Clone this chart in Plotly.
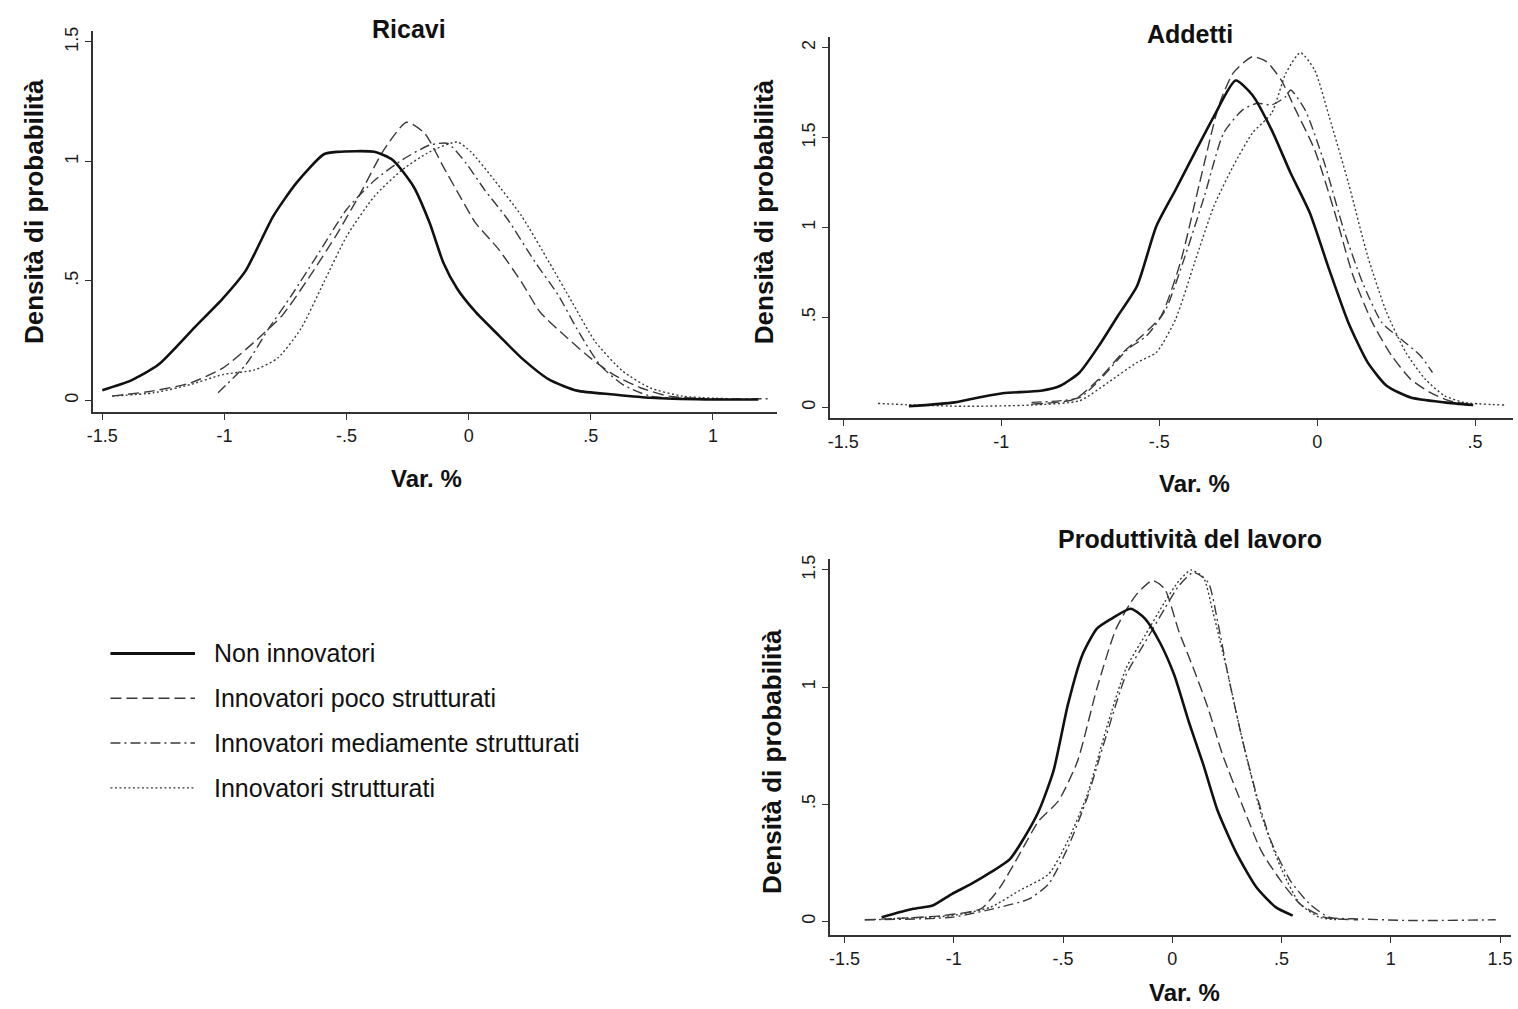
import plotly.graph_objects as go

# ---------------- data ----------------
SERIES_NAMES = ["Non innovatori", "Innovatori poco strutturati",
                "Innovatori mediamente strutturati", "Innovatori strutturati"]

# Ricavi
RIC_NON_X = [-1.50, -1.384, -1.271, -1.12, -1.008, -0.913, -0.80, -0.706, -0.593, -0.537, -0.386, -0.311,
             -0.226, -0.16, -0.104, -0.047, 0.028, 0.122, 0.217, 0.33, 0.443, 0.593, 0.744, 0.97, 1.186]
RIC_NON_Y = [0.043, 0.083, 0.149, 0.308, 0.425, 0.543, 0.771, 0.909, 1.03, 1.04, 1.04, 1.006,
             0.895, 0.743, 0.577, 0.467, 0.37, 0.273, 0.177, 0.087, 0.041, 0.025, 0.011, 0.004, 0.004]
RIC_POCO_X = [-1.46, -1.29, -1.14, -1.007, -0.876, -0.763, -0.65, -0.537, -0.443, -0.348, -0.254, -0.179,
              -0.104, -0.028, 0.028, 0.122, 0.217, 0.292, 0.405, 0.499, 0.593, 0.706, 0.819, 0.97]
RIC_POCO_Y = [0.018, 0.04, 0.073, 0.135, 0.246, 0.356, 0.52, 0.70, 0.867, 1.047, 1.164, 1.116,
              0.978, 0.84, 0.743, 0.633, 0.494, 0.37, 0.26, 0.177, 0.108, 0.052, 0.018, 0.007]
RIC_MED_X = [-1.026, -0.913, -0.819, -0.725, -0.612, -0.499, -0.386, -0.273, -0.16, -0.085, -0.009,
             0.066, 0.16, 0.273, 0.367, 0.443, 0.537, 0.631, 0.744, 0.97, 1.224]
RIC_MED_Y = [0.032, 0.149, 0.30, 0.44, 0.62, 0.80, 0.92, 1.006, 1.068, 1.075, 0.99,
             0.88, 0.757, 0.577, 0.44, 0.30, 0.149, 0.066, 0.018, 0.007, 0.007]
RIC_STR_X = [-1.46, -1.29, -1.14, -1.007, -0.876, -0.782, -0.687, -0.593, -0.499, -0.386, -0.273, -0.16,
             -0.047, 0.009, 0.104, 0.217, 0.33, 0.424, 0.518, 0.631, 0.744, 0.876, 1.064]
RIC_STR_Y = [0.018, 0.032, 0.066, 0.108, 0.128, 0.177, 0.30, 0.494, 0.688, 0.854, 0.964, 1.04,
             1.081, 1.04, 0.923, 0.771, 0.577, 0.41, 0.246, 0.122, 0.052, 0.018, 0.007]

# Addetti
ADD_NON_X = [-1.292, -1.147, -1.071, -0.995, -0.874, -0.813, -0.752, -0.691, -0.631, -0.57, -0.509, -0.448,
             -0.388, -0.327, -0.258, -0.205, -0.144, -0.084, -0.023, 0.038, 0.099, 0.16, 0.22, 0.296, 0.403, 0.494]
ADD_NON_Y = [0.006, 0.028, 0.055, 0.079, 0.092, 0.12, 0.194, 0.342, 0.508, 0.675, 1.007, 1.21,
             1.414, 1.617, 1.817, 1.737, 1.543, 1.303, 1.081, 0.767, 0.471, 0.25, 0.12, 0.055, 0.028, 0.013]
ADD_POCO_X = [-0.904, -0.767, -0.691, -0.615, -0.555, -0.494, -0.433, -0.372, -0.312, -0.266, -0.205, -0.16,
              -0.114, -0.068, -0.008, 0.053, 0.114, 0.175, 0.236, 0.296, 0.357, 0.418, 0.494]
ADD_POCO_Y = [0.018, 0.046, 0.157, 0.305, 0.397, 0.508, 0.804, 1.248, 1.673, 1.858, 1.95, 1.922,
              1.821, 1.654, 1.433, 1.10, 0.73, 0.471, 0.287, 0.157, 0.083, 0.037, 0.013]
ADD_MED_X = [-0.904, -0.752, -0.676, -0.6, -0.54, -0.479, -0.418, -0.357, -0.296, -0.236, -0.19, -0.144,
             -0.099, -0.084, -0.038, 0.023, 0.084, 0.144, 0.205, 0.266, 0.327, 0.365]
ADD_MED_Y = [0.028, 0.055, 0.176, 0.323, 0.397, 0.545, 0.841, 1.174, 1.525, 1.654, 1.691, 1.682,
             1.728, 1.765, 1.654, 1.359, 0.989, 0.693, 0.471, 0.379, 0.287, 0.194]
ADD_STR_X = [-1.39, -1.30, -1.117, -0.904, -0.752, -0.661, -0.57, -0.509, -0.448, -0.388, -0.327, -0.266,
             -0.205, -0.144, -0.099, -0.053, -0.008, 0.038, 0.099, 0.16, 0.22, 0.281, 0.342, 0.403, 0.464, 0.593]
ADD_STR_Y = [0.022, 0.015, 0.006, 0.013, 0.037, 0.139, 0.25, 0.305, 0.49, 0.804, 1.118, 1.34,
             1.525, 1.636, 1.858, 1.972, 1.876, 1.617, 1.248, 0.841, 0.527, 0.305, 0.157, 0.065, 0.028, 0.013]

# Produttività del lavoro
PRO_NON_X = [-1.33, -1.186, -1.097, -1.009, -0.92, -0.832, -0.743, -0.677, -0.611, -0.544, -0.478, -0.412,
             -0.345, -0.279, -0.19, -0.124, -0.058, 0.009, 0.075, 0.142, 0.208, 0.296, 0.385, 0.473, 0.551]
PRO_NON_Y = [0.018, 0.054, 0.068, 0.117, 0.16, 0.209, 0.266, 0.358, 0.471, 0.641, 0.924, 1.136,
             1.249, 1.291, 1.334, 1.291, 1.192, 1.051, 0.853, 0.669, 0.471, 0.287, 0.146, 0.061, 0.025]
PRO_POCO_X = [-1.407, -1.053, -0.876, -0.788, -0.699, -0.611, -0.522, -0.434, -0.345, -0.257, -0.168, -0.091,
              -0.035, 0.031, 0.097, 0.164, 0.23, 0.319, 0.407, 0.496, 0.584, 0.695, 0.85]
PRO_POCO_Y = [0.007, 0.025, 0.054, 0.146, 0.287, 0.429, 0.513, 0.683, 0.994, 1.249, 1.39, 1.454,
              1.419, 1.235, 1.079, 0.909, 0.711, 0.499, 0.301, 0.174, 0.075, 0.018, 0.007]
PRO_MED_X = [-1.407, -1.009, -0.788, -0.655, -0.566, -0.478, -0.389, -0.301, -0.212, -0.124, -0.035, 0.031,
             0.097, 0.164, 0.208, 0.252, 0.319, 0.385, 0.451, 0.54, 0.628, 0.717, 0.85, 1.093, 1.48]
PRO_MED_Y = [0.007, 0.018, 0.061, 0.096, 0.16, 0.315, 0.528, 0.796, 1.051, 1.192, 1.334, 1.433,
             1.489, 1.447, 1.277, 1.065, 0.782, 0.542, 0.344, 0.174, 0.075, 0.018, 0.011, 0.004, 0.007]
PRO_STR_X = [-1.319, -1.009, -0.832, -0.699, -0.566, -0.478, -0.389, -0.301, -0.212, -0.124, -0.035, 0.031,
             0.086, 0.142, 0.186, 0.252, 0.319, 0.407, 0.496, 0.584, 0.673, 0.761]
PRO_STR_Y = [0.011, 0.025, 0.061, 0.132, 0.202, 0.344, 0.542, 0.825, 1.079, 1.221, 1.362, 1.454,
             1.499, 1.468, 1.32, 1.065, 0.782, 0.457, 0.231, 0.075, 0.018, 0.007]

PANEL_TITLES = ["Ricavi", "Addetti", "Produttività del lavoro"]
X_TITLE = "Var. %"
Y_TITLE = "Densità di probabilità"

X_TICKS_1 = [-1.5, -1, -0.5, 0, 0.5, 1]
X_TICKS_2 = [-1.5, -1, -0.5, 0, 0.5]
X_TICKS_3 = [-1.5, -1, -0.5, 0, 0.5, 1, 1.5]
Y_TICKS_1 = [0, 0.5, 1, 1.5]
Y_TICKS_2 = [0, 0.5, 1, 1.5, 2]
Y_TICKS_3 = [0, 0.5, 1, 1.5]

# ---------------- styling ----------------
W, H = 1518, 1009
FONT = "Liberation Sans, Arial, sans-serif"
STYLES = [
    dict(color="#111111", width=2.6, dash="solid"),
    dict(color="#3a3a3a", width=1.4, dash="11px,5px"),
    dict(color="#3a3a3a", width=1.4, dash="10px,4px,2px,4px"),
    dict(color="#3a3a3a", width=1.4, dash="2px,2.5px"),
]


def tick_txt(v):
    if v == 0:
        return "0"
    s = ("%g" % v)
    s = s.replace("0.", ".")
    return s


def px_x(p):
    return p / W


def px_y(p):
    return 1 - p / H


fig = go.Figure()

panels = [
    ([(RIC_NON_X, RIC_NON_Y), (RIC_POCO_X, RIC_POCO_Y), (RIC_MED_X, RIC_MED_Y), (RIC_STR_X, RIC_STR_Y)], "x", "y"),
    ([(ADD_NON_X, ADD_NON_Y), (ADD_POCO_X, ADD_POCO_Y), (ADD_MED_X, ADD_MED_Y), (ADD_STR_X, ADD_STR_Y)], "x2", "y2"),
    ([(PRO_NON_X, PRO_NON_Y), (PRO_POCO_X, PRO_POCO_Y), (PRO_MED_X, PRO_MED_Y), (PRO_STR_X, PRO_STR_Y)], "x3", "y3"),
]
for series, xa, ya in panels:
    for i in [3, 2, 1, 0]:
        xs, ys = series[i]
        fig.add_trace(go.Scatter(x=xs, y=ys, mode="lines", name=SERIES_NAMES[i],
                                 line=dict(shape="spline", smoothing=0.6, **STYLES[i]),
                                 xaxis=xa, yaxis=ya, showlegend=False, hoverinfo="skip"))

# panel geometry (pixels)
geo = [
    (87, 775, 27, 410, [-1.54, 1.262], [-0.05, 1.546], X_TICKS_1, Y_TICKS_1),
    (828, 1515, 33, 416, [-1.543, 0.62], [-0.061, 2.06], X_TICKS_2, Y_TICKS_2),
    (828, 1513, 557, 935, [-1.568, 1.55], [-0.059, 1.547], X_TICKS_3, Y_TICKS_3),
]

axis_common = dict(showline=True, linecolor="#333333", linewidth=1.6, ticks="outside",
                   ticklen=6, tickwidth=1.3, tickcolor="#333333", showgrid=False, zeroline=False,
                   tickfont=dict(family=FONT, size=18, color="#1a1a1a"), fixedrange=True)

layout_axes = {}
for k, (xl, xr, yt, yb, xr_, yr_, xt, yt_) in enumerate(geo):
    sfx = "" if k == 0 else str(k + 1)
    layout_axes["xaxis" + sfx] = dict(domain=[px_x(xl), px_x(xr)], range=xr_, anchor="y" + sfx,
                                      tickvals=xt, ticktext=[tick_txt(v) for v in xt], **axis_common)
    layout_axes["yaxis" + sfx] = dict(domain=[px_y(yb), px_y(yt)], range=yr_, anchor="x" + sfx,
                                      tickvals=yt_, ticktext=[tick_txt(v) for v in yt_], tickangle=-90,
                                      **axis_common)

annotations = []
bold = lambda s: "<b>" + s + "</b>"

for txt, cx, cy in [(PANEL_TITLES[0], 405, 25), (PANEL_TITLES[1], 1190, 30), (PANEL_TITLES[2], 1190, 537)]:
    annotations.append(dict(text=bold(txt), x=px_x(cx), y=px_y(cy), xref="paper", yref="paper",
                            xanchor="center", yanchor="middle", showarrow=False,
                            font=dict(family=FONT, size=25, color="#111111")))
for cx, cy in [(423, 476), (1195, 481), (1185, 992)]:
    annotations.append(dict(text=bold(X_TITLE), x=px_x(cx), y=px_y(cy), xref="paper", yref="paper",
                            xanchor="center", yanchor="middle", showarrow=False,
                            font=dict(family=FONT, size=24, color="#111111")))
for cx, cy in [(28, 208), (762, 208), (770, 760)]:
    annotations.append(dict(text=bold(Y_TITLE), x=px_x(cx), y=px_y(cy), xref="paper", yref="paper",
                            xanchor="center", yanchor="middle", showarrow=False, textangle=-90,
                            font=dict(family=FONT, size=26, color="#111111")))

shapes = []
legend_rows = [652, 697, 742, 787]
for i, ry in enumerate(legend_rows):
    st = STYLES[i]
    shapes.append(dict(type="line", xref="paper", yref="paper", x0=px_x(105), x1=px_x(190),
                       y0=px_y(ry), y1=px_y(ry),
                       line=dict(color=st["color"], width=st["width"] + (0.4 if i == 0 else 0),
                                 dash=st["dash"])))
    annotations.append(dict(text=SERIES_NAMES[i], x=px_x(207), y=px_y(ry), xref="paper", yref="paper",
                            xanchor="left", yanchor="middle", showarrow=False,
                            font=dict(family=FONT, size=25, color="#111111")))

fig.update_layout(width=W, height=H, autosize=False, margin=dict(l=0, r=0, t=0, b=0),
                  paper_bgcolor="white", plot_bgcolor="white", showlegend=False,
                  annotations=annotations, shapes=shapes, **layout_axes)

POST = ("document.documentElement.style.margin='0';document.body.style.margin='0';"
        "document.body.style.padding='0';document.body.style.overflow='hidden';"
        "var gd=document.getElementById('{plot_id}');var p=gd.parentElement;"
        "p.style.position='absolute';p.style.top='0px';p.style.left='0px';")
fig.write_html("out.html", config={"displayModeBar": False}, post_script=POST)
